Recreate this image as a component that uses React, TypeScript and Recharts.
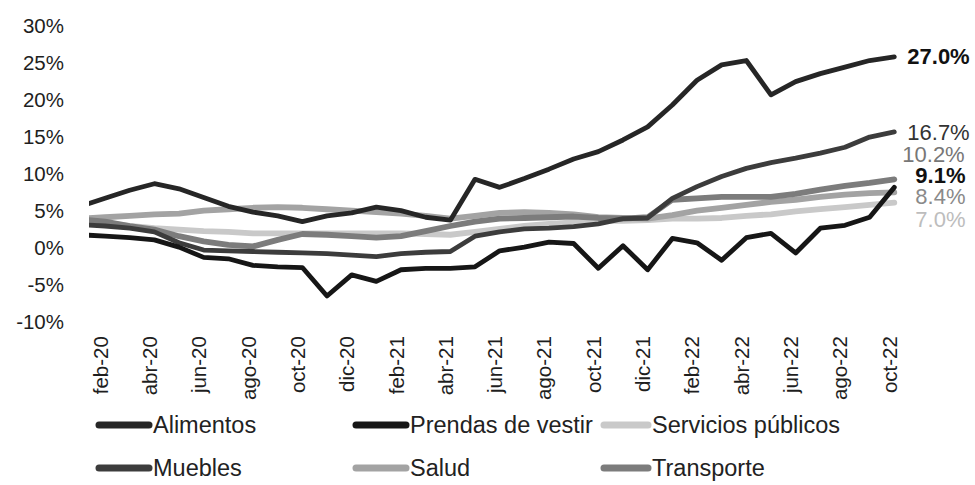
import React from 'react';
import { LineChart, Line, XAxis, YAxis, Legend, LabelList } from 'recharts';

// Months: ene-20 .. oct-22 (ene-20 lies just left of the plot and is clipped)
const months = [
  'ene-20', 'feb-20', 'mar-20', 'abr-20', 'may-20', 'jun-20', 'jul-20', 'ago-20', 'sep-20', 'oct-20', 'nov-20', 'dic-20',
  'ene-21', 'feb-21', 'mar-21', 'abr-21', 'may-21', 'jun-21', 'jul-21', 'ago-21', 'sep-21', 'oct-21', 'nov-21', 'dic-21',
  'ene-22', 'feb-22', 'mar-22', 'abr-22', 'may-22', 'jun-22', 'jul-22', 'ago-22', 'sep-22', 'oct-22',
];

const tickLabels = [
  'feb-20', 'abr-20', 'jun-20', 'ago-20', 'oct-20', 'dic-20', 'feb-21', 'abr-21', 'jun-21',
  'ago-21', 'oct-21', 'dic-21', 'feb-22', 'abr-22', 'jun-22', 'ago-22', 'oct-22',
];

const yTicks = [-10, -5, 0, 5, 10, 15, 20, 25, 30];

const alimentos = [6.5, 7.6, 8.7, 9.6, 8.9, 7.7, 6.5, 5.7, 5.2, 4.4, 5.2, 5.6, 6.4, 5.9, 5.0, 4.6, 10.2, 9.1, 10.3, 11.6, 13.0, 14.0, 15.6, 17.4, 20.4, 23.8, 25.9, 26.5, 21.8, 23.6, 24.7, 25.6, 26.5, 27.0];
const prendas = [2.6, 2.4, 2.2, 1.9, 0.9, -0.5, -0.7, -1.6, -1.8, -1.9, -5.8, -2.9, -3.8, -2.2, -2.0, -2.0, -1.8, 0.4, 0.9, 1.6, 1.4, -2.0, 1.1, -2.2, 2.1, 1.5, -0.9, 2.2, 2.8, 0.1, 3.5, 3.9, 5.0, 9.1];
const servicios = [4.5, 4.2, 3.8, 3.5, 3.3, 3.1, 3.0, 2.8, 2.8, 2.8, 2.8, 2.8, 2.8, 2.8, 2.7, 2.6, 3.0, 3.4, 3.8, 4.1, 4.3, 4.5, 4.5, 4.6, 4.8, 4.8, 4.9, 5.2, 5.4, 5.8, 6.1, 6.4, 6.7, 7.0];
const muebles = [4.0, 3.8, 3.5, 3.0, 1.5, 0.5, 0.4, 0.3, 0.2, 0.1, 0.0, -0.2, -0.4, 0.0, 0.2, 0.3, 2.4, 3.0, 3.4, 3.5, 3.7, 4.1, 4.8, 4.9, 7.6, 9.2, 10.6, 11.7, 12.5, 13.1, 13.8, 14.6, 16.0, 16.7];
const salud = [4.8, 5.0, 5.2, 5.4, 5.5, 5.9, 6.1, 6.3, 6.4, 6.3, 6.1, 5.9, 5.7, 5.5, 5.2, 4.8, 5.2, 5.6, 5.7, 5.6, 5.4, 5.0, 4.9, 4.8, 5.3, 5.9, 6.3, 6.7, 7.1, 7.4, 7.8, 8.1, 8.3, 8.4];
const transporte = [4.7, 4.4, 3.8, 3.3, 2.4, 1.7, 1.2, 1.0, 1.9, 2.7, 2.6, 2.4, 2.2, 2.4, 3.1, 3.8, 4.4, 4.8, 4.9, 5.0, 5.1, 4.9, 4.8, 5.0, 7.4, 7.6, 7.8, 7.8, 7.8, 8.2, 8.8, 9.3, 9.7, 10.2];

const FONT = '"Liberation Sans", Arial, Helvetica, sans-serif';

// style config (legend order)
const series = [
  { key: 'alimentos', name: 'Alimentos', values: alimentos, color: '#262626', width: 4.8, lblColor: '#111', bold: true, lblDx: 13, lblDy: 0 },
  { key: 'prendas', name: 'Prendas de vestir', values: prendas, color: '#161616', width: 4.8, lblColor: '#111', bold: true, lblDx: 21, lblDy: -12 },
  { key: 'servicios', name: 'Servicios públicos', values: servicios, color: '#c9c9c9', width: 5.8, lblColor: '#bdbdbd', bold: false, lblDx: 21, lblDy: 17 },
  { key: 'muebles', name: 'Muebles', values: muebles, color: '#3c3c3c', width: 4.8, lblColor: '#333', bold: false, lblDx: 13, lblDy: 1 },
  { key: 'salud', name: 'Salud', values: salud, color: '#a3a3a3', width: 5.8, lblColor: '#8a8a8a', bold: false, lblDx: 21, lblDy: 4 },
  { key: 'transporte', name: 'Transporte', values: transporte, color: '#7c7c7c', width: 5.8, lblColor: '#777', bold: false, lblDx: 8, lblDy: -25 },
];

const drawOrder = ['servicios', 'salud', 'transporte', 'muebles', 'prendas', 'alimentos'];
const legendCols = [95, 352, 600];
const legendSwatch = [58, 58, 52];

const data = months.map((m, i) => {
  const row: Record<string, number | string> = { t: i, month: m };
  series.forEach((s) => {
    row[s.key] = s.values[i];
  });
  return row;
});

const tickPositions = tickLabels.map((l) => months.indexOf(l));
const lastIndex = months.length - 1;

const XTick = (props: any) => {
  const { x, y, payload } = props;
  const label = months[payload.value];
  const lx = x - 5;
  const ly = y + 9.5;
  return (
    <text
      x={lx}
      y={ly}
      transform={`rotate(-90 ${lx} ${ly})`}
      textAnchor="end"
      dominantBaseline="central"
      fontSize={20.5}
      fontFamily={FONT}
      fill="#1e1e1e"
    >
      {label}
    </text>
  );
};

const YTick = (props: any) => {
  const { x, y, payload } = props;
  const ly = y - 6 + (y - 253.7) * 0.018;
  return (
    <text x={x - 25} y={ly} textAnchor="end" dominantBaseline="central" fontSize={20.5} fontFamily={FONT} fill="#1e1e1e">
      {`${payload.value}%`}
    </text>
  );
};

const makeEndLabel = (s: any) => (props: any) => {
  const { index, value } = props;
  if (index !== lastIndex) return null;
  const vx = props.viewBox && props.viewBox.x != null ? props.viewBox.x : props.x;
  const vy = props.viewBox && props.viewBox.y != null ? props.viewBox.y : props.y;
  return (
    <text
      x={vx + s.lblDx}
      y={vy + s.lblDy}
      dominantBaseline="central"
      fontSize={22}
      fontWeight={s.bold ? 'bold' : 'normal'}
      fontFamily={FONT}
      fill={s.lblColor}
    >
      {`${Number(value).toFixed(1)}%`}
    </text>
  );
};

const renderLegend = () => (
  <div style={{ position: 'relative', width: 975, height: 85, fontFamily: FONT, fontSize: 23.5, color: '#222' }}>
    {series.map((s, i) => {
      const col = i % 3;
      const row = Math.floor(i / 3);
      const sw = legendSwatch[col];
      return (
        <div
          key={s.key}
          style={{ position: 'absolute', left: legendCols[col], top: 8 + row * 43, height: 34, display: 'flex', alignItems: 'center', whiteSpace: 'nowrap' }}
        >
          <svg width={sw} height={12} style={{ display: 'block' }}>
            <line x1={4} y1={6} x2={sw - 4} y2={6} stroke={s.color} strokeWidth={7} strokeLinecap="round" />
          </svg>
          <span style={{ lineHeight: '34px' }}>{s.name}</span>
        </div>
      );
    })}
  </div>
);

export default function App() {
  return (
    <div style={{ position: 'absolute', left: 0, top: 0, width: 975, height: 485, background: '#fff', fontFamily: FONT }}>
      <LineChart width={975} height={485} data={data} margin={{ top: 35, right: 77, bottom: 0, left: 0 }}>
        <XAxis
          type="number"
          dataKey="t"
          domain={[0.35, 33.15]}
          allowDataOverflow
          ticks={tickPositions}
          interval={0}
          tick={<XTick />}
          axisLine={false}
          tickLine={false}
          tickSize={0}
          tickMargin={0}
          height={73.4}
        />
        <YAxis
          type="number"
          domain={[-10, 30]}
          ticks={yTicks}
          interval={0}
          tick={<YTick />}
          axisLine={false}
          tickLine={false}
          tickSize={0}
          tickMargin={0}
          width={89}
        />
        <Legend verticalAlign="bottom" height={85} content={renderLegend} wrapperStyle={{ left: 0, bottom: 0, width: 975, height: 85 }} />
        {drawOrder.map((k) => {
          const s = series.find((x) => x.key === k)!;
          return (
            <Line
              key={s.key}
              type="linear"
              dataKey={s.key}
              name={s.name}
              stroke={s.color}
              strokeWidth={s.width}
              strokeLinejoin="round"
              strokeLinecap="round"
              dot={false}
              activeDot={false}
              isAnimationActive={false}
            >
              <LabelList dataKey={s.key} content={makeEndLabel(s)} />
            </Line>
          );
        })}
      </LineChart>
    </div>
  );
}
